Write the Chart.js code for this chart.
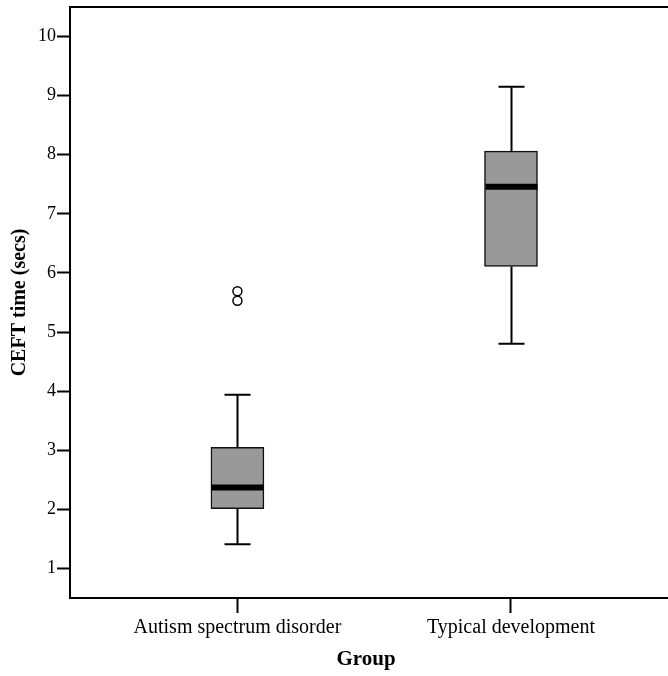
<!DOCTYPE html>
<html>
<head>
<meta charset="utf-8">
<script src="https://cdn.jsdelivr.net/npm/chart.js@4/dist/chart.umd.min.js"></script>
<style>
  body { margin: 0; background: #fff; }
</style>
</head>
<body>
<canvas id="graph" width="668" height="676"></canvas>
<script>
// groups and box summary values
var groups = ['Autism spectrum disorder', 'Typical development'];
var whiskerLow = [1.41, 4.80];
var q1 = [2.01, 6.11];
var median = [2.37, 7.46];
var q3 = [3.05, 8.06];
var whiskerHigh = [3.94, 9.15];
var outlierGroup = [0, 0];
var outlierValues = [5.69, 5.53];
var yTicks = [1, 2, 3, 4, 5, 6, 7, 8, 9, 10];

var serif = 'Liberation Serif, Times New Roman, serif';

// whiskers, median bars and top frame line
var boxExtras = {
    id: 'boxExtras',
    afterDatasetsDraw: function (chart) {
        var c = chart.ctx;
        var x = chart.scales.x;
        var y = chart.scales.y;
        var area = chart.chartArea;
        c.save();
        c.strokeStyle = '#000';
        groups.forEach(function (g, i) {
            var cx = Math.round(x.getPixelForValue(i)) + 0.5;
            c.lineWidth = 2;
            c.beginPath();
            // lower whisker
            c.moveTo(cx, y.getPixelForValue(q1[i]));
            c.lineTo(cx, y.getPixelForValue(whiskerLow[i]));
            c.moveTo(cx - 13, y.getPixelForValue(whiskerLow[i]));
            c.lineTo(cx + 13, y.getPixelForValue(whiskerLow[i]));
            // upper whisker
            c.moveTo(cx, y.getPixelForValue(q3[i]));
            c.lineTo(cx, y.getPixelForValue(whiskerHigh[i]));
            c.moveTo(cx - 13, y.getPixelForValue(whiskerHigh[i]));
            c.lineTo(cx + 13, y.getPixelForValue(whiskerHigh[i]));
            c.stroke();
            // median
            c.lineWidth = 6;
            c.beginPath();
            c.moveTo(cx - 26, y.getPixelForValue(median[i]));
            c.lineTo(cx + 26, y.getPixelForValue(median[i]));
            c.stroke();
        });
        // top and bottom frame run off the right edge
        c.lineWidth = 2;
        c.beginPath();
        c.moveTo(area.left, area.top);
        c.lineTo(chart.width, area.top);
        c.moveTo(area.left, area.bottom);
        c.lineTo(chart.width, area.bottom);
        c.stroke();
        c.restore();
    }
};

var ctx = document.getElementById('graph');

var chart = new Chart(ctx, {
    type: 'bar',
    data: {
        datasets: [{
            // boxes from Q1 to Q3
            data: groups.map(function (g, i) { return { x: i, y: [q1[i], q3[i]] }; }),
            backgroundColor: '#999999',
            borderColor: '#111',
            borderWidth: 1.5,
            borderSkipped: false,
            barThickness: 53,
            order: 2
        }, {
            type: 'scatter',
            data: outlierValues.map(function (v, i) { return { x: outlierGroup[i], y: v }; }),
            pointStyle: 'circle',
            pointRadius: 4.5,
            backgroundColor: 'rgba(0,0,0,0)',
            borderColor: '#000',
            borderWidth: 1.5,
            order: 1
        }]
    },
    options: {
        responsive: false,
        animation: false,
        events: [],
        layout: { padding: { top: 7, right: 0, left: 0, bottom: 0 } },
        plugins: {
            legend: { display: false },
            tooltip: { enabled: false }
        },
        scales: {
            x: {
                type: 'linear',
                offset: false,
                min: -0.612,
                max: 1.552,
                afterBuildTicks: function (scale) {
                    scale.ticks = groups.map(function (g, i) { return { value: i }; });
                },
                afterFit: function (scale) {
                    scale.height = 78;
                    scale.paddingLeft = 0;
                    scale.paddingRight = 0;
                },
                ticks: {
                    callback: function (v) { return groups[v]; },
                    color: '#000',
                    font: { family: serif, size: 20 },
                    padding: 3,
                    maxRotation: 0
                },
                grid: {
                    offset: false,
                    drawOnChartArea: false,
                    tickLength: 15,
                    tickWidth: 2,
                    tickColor: '#000'
                },
                border: { display: true, color: '#000', width: 2 },
                title: {
                    display: true,
                    text: 'Group',
                    color: '#000',
                    font: { family: serif, size: 21, weight: 'bold' },
                    padding: { top: 0, bottom: 4 }
                }
            },
            y: {
                min: 0.5,
                max: 10.5,
                afterBuildTicks: function (scale) {
                    scale.ticks = yTicks.map(function (v) { return { value: v }; });
                },
                afterFit: function (scale) {
                    scale.width = 70;
                    scale.paddingTop = 0;
                    scale.paddingBottom = 0;
                },
                ticks: {
                    color: '#000',
                    font: { family: serif, size: 18 },
                    padding: 1
                },
                grid: {
                    drawOnChartArea: false,
                    tickLength: 13,
                    tickWidth: 2,
                    tickColor: '#000'
                },
                border: { display: true, color: '#000', width: 2 },
                title: {
                    display: true,
                    text: 'CEFT time (secs)',
                    color: '#000',
                    font: { family: serif, size: 20, weight: 'bold' },
                    padding: { top: 8, bottom: 0 }
                }
            }
        }
    },
    plugins: [boxExtras]
});
</script>
</body>
</html>
